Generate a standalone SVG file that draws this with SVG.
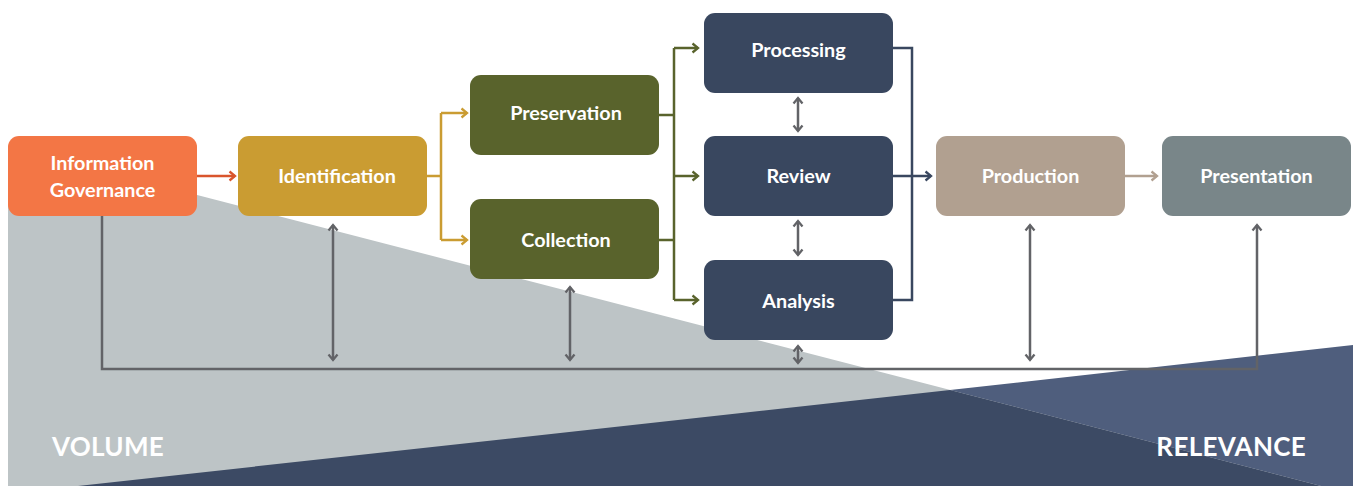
<svg xmlns="http://www.w3.org/2000/svg" width="1353" height="486" viewBox="0 0 1353 486">
<style>
.lbl{font-family:Lato,"Open Sans","Liberation Sans",sans-serif;font-weight:700;font-size:19.8px;fill:#fff;text-anchor:middle}
.big{font-family:Lato,"Open Sans","Liberation Sans",sans-serif;font-weight:700;font-size:26px;fill:#fff;letter-spacing:0.3px}
.c{fill:none;stroke-width:2.5}
.fb{fill:none;stroke:#626367;stroke-width:2.5}
</style>
<defs>
<marker id="aO" markerUnits="userSpaceOnUse" markerWidth="12" markerHeight="12" refX="7" refY="6" orient="auto"><path d="M1.5,1.5 L7,6 L1.5,10.5" fill="none" stroke="#D9552C" stroke-width="2.3"/></marker>
<marker id="aG" markerUnits="userSpaceOnUse" markerWidth="12" markerHeight="12" refX="7" refY="6" orient="auto"><path d="M1.5,1.5 L7,6 L1.5,10.5" fill="none" stroke="#CA9C32" stroke-width="2.3"/></marker>
<marker id="aL" markerUnits="userSpaceOnUse" markerWidth="12" markerHeight="12" refX="7" refY="6" orient="auto"><path d="M1.5,1.5 L7,6 L1.5,10.5" fill="none" stroke="#59632C" stroke-width="2.3"/></marker>
<marker id="aN" markerUnits="userSpaceOnUse" markerWidth="12" markerHeight="12" refX="7" refY="6" orient="auto"><path d="M1.5,1.5 L7,6 L1.5,10.5" fill="none" stroke="#39475F" stroke-width="2.3"/></marker>
<marker id="aT" markerUnits="userSpaceOnUse" markerWidth="12" markerHeight="12" refX="7" refY="6" orient="auto"><path d="M1.5,1.5 L7,6 L1.5,10.5" fill="none" stroke="#B1A090" stroke-width="2.3"/></marker>
<marker id="aY" markerUnits="userSpaceOnUse" markerWidth="12" markerHeight="12" refX="7" refY="6" orient="auto-start-reverse"><path d="M1.5,1.5 L7,6 L1.5,10.5" fill="none" stroke="#626367" stroke-width="2.3"/></marker>
</defs>
<rect width="1353" height="486" fill="#fff"/>
<g id="background">
<polygon points="8,146 1321,486 8,486" fill="#BDC4C6"/>
<polygon points="950,390 1353,345 1353,486 1321,486" fill="#4F5E7D"/>
<polygon points="78,486 950,390 1321,486" fill="#3C4A64"/>
<text class="big" x="52" y="456">VOLUME</text>
<text class="big" x="1306" y="456" text-anchor="end">RELEVANCE</text>
</g>
<g id="connectors">
<path class="c" stroke="#D9552C" d="M197,176 H235" marker-end="url(#aO)"/>
<path class="c" stroke="#CA9C32" d="M427,176 H441 M441,113 V240"/>
<path class="c" stroke="#CA9C32" d="M441,113 H467" marker-end="url(#aG)"/>
<path class="c" stroke="#CA9C32" d="M441,240 H467" marker-end="url(#aG)"/>
<path class="c" stroke="#59632C" d="M659,115 H674 M659,240 H674 M674,48 V300"/>
<path class="c" stroke="#59632C" d="M674,48 H698" marker-end="url(#aL)"/>
<path class="c" stroke="#59632C" d="M674,176 H698" marker-end="url(#aL)"/>
<path class="c" stroke="#59632C" d="M674,300 H698" marker-end="url(#aL)"/>
<path class="c" stroke="#39475F" d="M893,48 H912 V300 H893"/>
<path class="c" stroke="#39475F" d="M893,176 H931" marker-end="url(#aN)"/>
<path class="c" stroke="#B1A090" d="M1125,176 H1157" marker-end="url(#aT)"/>
<path class="fb" d="M102,216 V369 H1257 V225" marker-end="url(#aY)"/>
<path class="fb" d="M333,225 V360" marker-start="url(#aY)" marker-end="url(#aY)"/>
<path class="fb" d="M570,287 V360" marker-start="url(#aY)" marker-end="url(#aY)"/>
<path class="fb" d="M798,98 V131" marker-start="url(#aY)" marker-end="url(#aY)"/>
<path class="fb" d="M798,221 V255" marker-start="url(#aY)" marker-end="url(#aY)"/>
<path class="fb" d="M798,346 V363" marker-start="url(#aY)" marker-end="url(#aY)"/>
<path class="fb" d="M1030,225 V360" marker-start="url(#aY)" marker-end="url(#aY)"/>
</g>
<g id="information-governance"><rect x="8" y="136" width="189" height="80" rx="11" fill="#F37645"/><text class="lbl" x="102.5" y="170">Information</text><text class="lbl" x="102.5" y="197">Governance</text></g>
<g id="identification"><rect x="238" y="136" width="189" height="80" rx="11" fill="#CA9C32"/><text class="lbl" x="337" y="183">Identification</text></g>
<g id="preservation"><rect x="470" y="75" width="189" height="80" rx="11" fill="#59632C"/><text class="lbl" x="566" y="120">Preservation</text></g>
<g id="collection"><rect x="470" y="199" width="189" height="80" rx="11" fill="#59632C"/><text class="lbl" x="566" y="247">Collection</text></g>
<g id="processing"><rect x="704" y="13" width="189" height="80" rx="11" fill="#39475F"/><text class="lbl" x="798.5" y="57">Processing</text></g>
<g id="review"><rect x="704" y="136" width="189" height="80" rx="11" fill="#39475F"/><text class="lbl" x="798.5" y="183">Review</text></g>
<g id="analysis"><rect x="704" y="260" width="189" height="80" rx="11" fill="#39475F"/><text class="lbl" x="798.5" y="308">Analysis</text></g>
<g id="production"><rect x="936" y="136" width="189" height="80" rx="11" fill="#B1A090"/><text class="lbl" x="1030.5" y="183">Production</text></g>
<g id="presentation"><rect x="1162" y="136" width="189" height="80" rx="11" fill="#798689"/><text class="lbl" x="1256.5" y="183">Presentation</text></g>
</svg>
